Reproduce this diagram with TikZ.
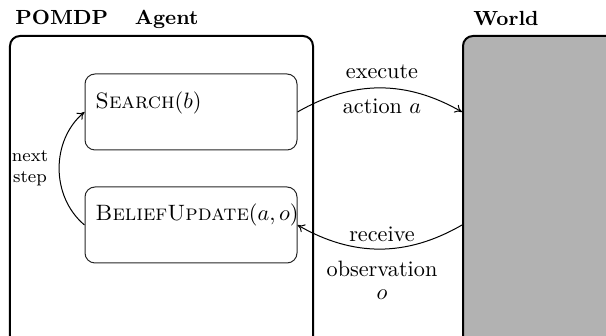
\documentclass[tikz,border=0pt]{standalone}
\usetikzlibrary{arrows.meta}
\begin{document}
\begin{tikzpicture}[x=0.45pt,y=-0.45pt,
  outerbox/.style={draw=black,line width=0.9pt,rounded corners=4.5pt,inner sep=0pt},
  innerbox/.style={draw=black!85,line width=0.45pt,rounded corners=4.5pt,inner sep=0pt,minimum width=95.4pt,minimum height=34.2pt},
  title/.style={font=\fontsize{9.2}{11}\selectfont\bfseries,inner sep=0pt},
  lbl/.style={inner sep=0pt},
  conn/.style={-{To[length=3.2pt,width=4pt]},line width=0.45pt}]
\useasboundingbox (0,0) rectangle (606,336);
\clip (0,0) rectangle (606,336);
\node[outerbox,minimum width=136.35pt,minimum height=139.5pt] (agent) at (161.5,191) {};
\node[outerbox,fill=black!30,minimum width=79.65pt,minimum height=139.5pt] (world) at (551.5,191) {};
\node[title,anchor=west] (agenttitle) at (15,19) {POMDP\hspace{12pt}Agent};
\node[title,anchor=west] (worldtitle) at (473,19) {World};
\node[innerbox] (search) at (191,112) {};
\node[innerbox] (belief) at (191,225) {};
\node[lbl,anchor=west] (searchtxt) at (95,103) {\textsc{Search}$(b)$};
\node[lbl,anchor=west] (belieftxt) at (95,215) {\textsc{BeliefUpdate}$(a,o)$};
\coordinate (wexec) at (search.east -| world.west);
\coordinate (wrecv) at (belief.east -| world.west);
\draw[conn] (search.east) to[bend left=30] (wexec);
\draw[conn] (wrecv) to[bend left=30] (belief.east);
\draw[conn] (belief.west) to[bend left=50] (search.west);
\node[lbl] (exec) at (382,72) {execute};
\node[lbl] (act) at (382,106) {action $a$};
\node[lbl] (recv) at (382,234) {receive};
\node[lbl] (obs) at (382,269) {observation};
\node[lbl] (obso) at (382,295) {$o$};
\node[lbl,font=\footnotesize,align=center] (next) at (30,168) {next\\step};
\end{tikzpicture}
\end{document}
